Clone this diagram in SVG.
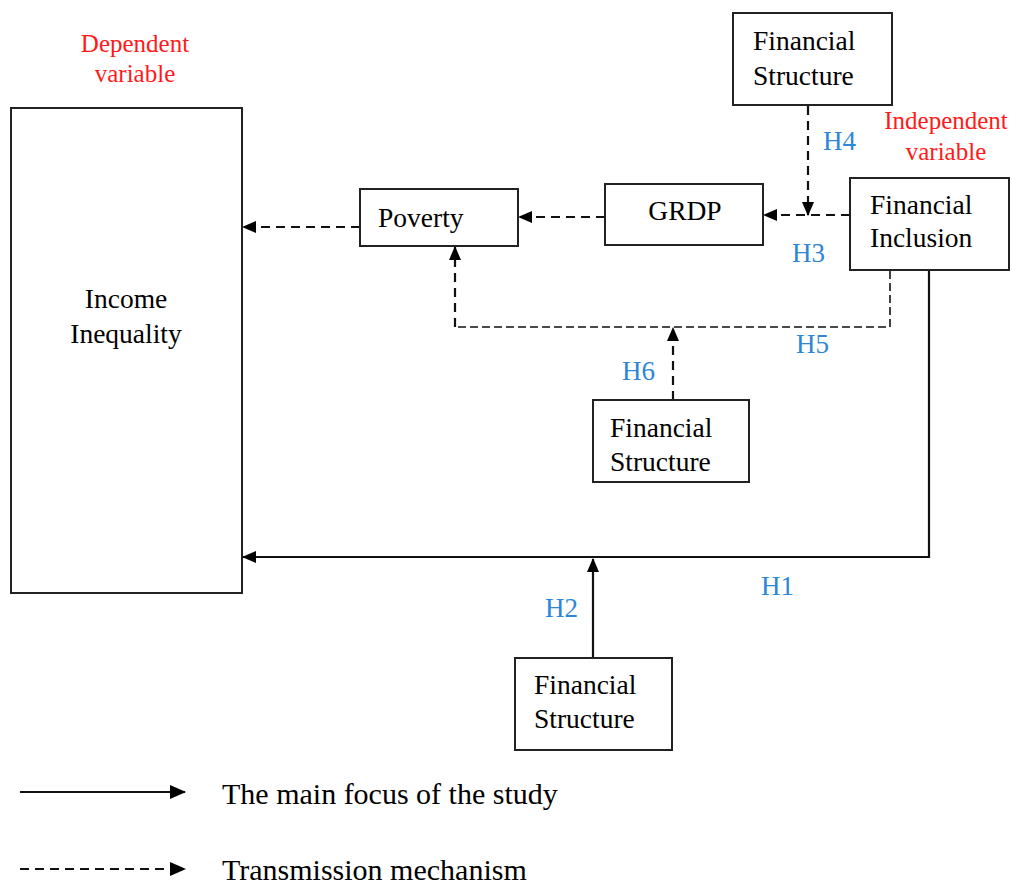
<svg xmlns="http://www.w3.org/2000/svg" width="1012" height="884" viewBox="0 0 1012 884">
<style>
.t{font-family:"Liberation Serif","Times New Roman",serif;font-size:27.5px;fill:#000}
.red{font-family:"Liberation Serif","Times New Roman",serif;font-size:25px;fill:#ff1a1a;text-anchor:middle}
.h{font-family:"Liberation Serif","Times New Roman",serif;font-size:27px;fill:#2e86d6}
.lg{font-family:"Liberation Serif","Times New Roman",serif;font-size:30px;fill:#000}
.box{fill:#fff;stroke:#222;stroke-width:2}
.solid{fill:none;stroke:#111;stroke-width:2.2}
.dash{fill:none;stroke:#111;stroke-width:2.2;stroke-dasharray:9 6}
.dash2{fill:none;stroke:#111;stroke-width:1.6;stroke-dasharray:8 4}
</style>
<defs>
<marker id="ah" markerUnits="userSpaceOnUse" markerWidth="14" markerHeight="12" refX="13" refY="6" orient="auto">
<path d="M0,0 L14,6 L0,12 Z" fill="#000"/>
</marker>
<marker id="ahl" markerUnits="userSpaceOnUse" markerWidth="16" markerHeight="14" refX="15" refY="7" orient="auto">
<path d="M0,0 L16,7 L0,14 Z" fill="#000"/>
</marker>
</defs>
<rect width="1012" height="884" fill="#fff"/>

<g id="labels">
<text class="red" x="135" y="52">Dependent</text>
<text class="red" x="135" y="82">variable</text>
<text class="red" x="946" y="129">Independent</text>
<text class="red" x="946" y="160">variable</text>
<text class="h" x="823" y="150">H4</text>
<text class="h" x="792" y="262">H3</text>
<text class="h" x="796" y="353">H5</text>
<text class="h" x="622" y="380">H6</text>
<text class="h" x="761" y="595">H1</text>
<text class="h" x="545" y="617">H2</text>
</g>

<g id="connectors">
<line class="dash" x1="360" y1="227" x2="243" y2="227" marker-end="url(#ah)"/>
<line class="dash" x1="605" y1="217" x2="519" y2="217" marker-end="url(#ah)"/>
<line class="dash" x1="850" y1="215" x2="764" y2="215" marker-end="url(#ah)"/>
<line class="dash" x1="808" y1="106" x2="808" y2="215" marker-end="url(#ah)"/>
<polyline class="dash2" points="890,271 890,327 455,327"/>
<line class="dash" x1="455" y1="327" x2="455" y2="247" marker-end="url(#ah)"/>
<line class="dash" x1="673" y1="400" x2="673" y2="328" marker-end="url(#ah)"/>
<polyline class="solid" points="929,271 929,557 243,557" marker-end="url(#ah)"/>
<line class="solid" x1="593" y1="658" x2="593" y2="559" marker-end="url(#ah)"/>
</g>

<g id="node-income-inequality">
<rect class="box" x="11" y="108" width="231" height="485"/>
<text class="t" x="126" y="308" text-anchor="middle">Income</text>
<text class="t" x="126" y="343" text-anchor="middle">Inequality</text>
</g>
<g id="node-poverty">
<rect class="box" x="360" y="189" width="158" height="57"/>
<text class="t" x="378" y="227">Poverty</text>
</g>
<g id="node-grdp">
<rect class="box" x="605" y="184" width="158" height="61"/>
<text class="t" x="685" y="220" text-anchor="middle">GRDP</text>
</g>
<g id="node-fs-top">
<rect class="box" x="733" y="13" width="159" height="92"/>
<text class="t" x="753" y="50">Financial</text>
<text class="t" x="753" y="85">Structure</text>
</g>
<g id="node-financial-inclusion">
<rect class="box" x="850" y="178" width="159" height="92"/>
<text class="t" x="870" y="214">Financial</text>
<text class="t" x="870" y="247">Inclusion</text>
</g>
<g id="node-fs-middle">
<rect class="box" x="593" y="400" width="156" height="82"/>
<text class="t" x="610" y="437">Financial</text>
<text class="t" x="610" y="471">Structure</text>
</g>
<g id="node-fs-bottom">
<rect class="box" x="515" y="658" width="157" height="92"/>
<text class="t" x="534" y="694">Financial</text>
<text class="t" x="534" y="728">Structure</text>
</g>

<g id="legend">
<line class="solid" x1="20" y1="792" x2="185" y2="792" marker-end="url(#ahl)"/>
<line class="dash" x1="20" y1="869" x2="185" y2="869" marker-end="url(#ahl)"/>
<text class="lg" x="222" y="804">The main focus of the study</text>
<text class="lg" x="222" y="880">Transmission mechanism</text>
</g>
</svg>
